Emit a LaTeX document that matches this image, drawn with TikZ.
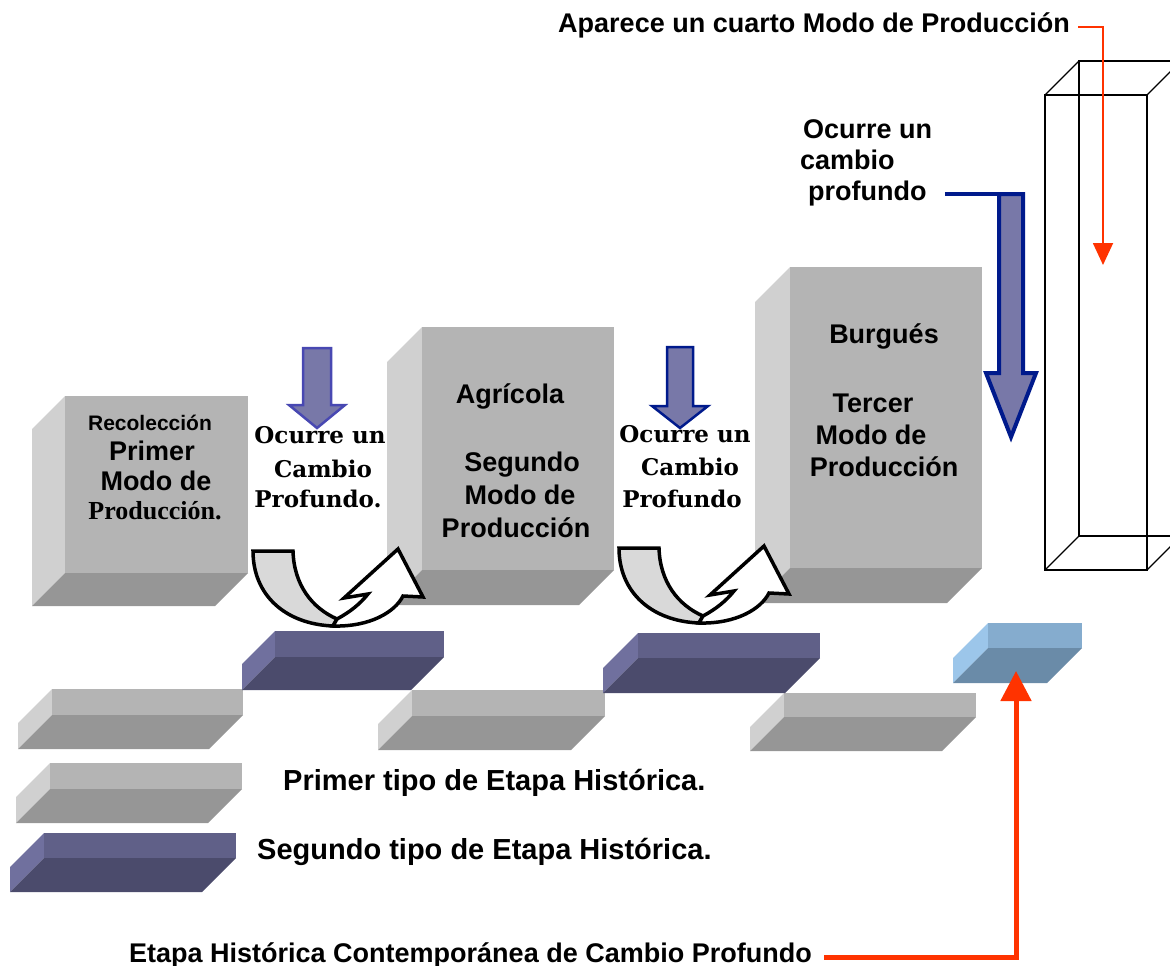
\documentclass[tikz,border=0pt]{standalone}
\usepackage{fontspec}
\setmainfont{Liberation Sans}
\newfontfamily\bookfont{DejaVu Serif}
\newfontfamily\timesfont{Liberation Serif}
\usepackage{tikz}
\usetikzlibrary{arrows.meta, positioning, calc}
\usepackage{xcolor}
\definecolor{GrisFront}{RGB}{180,180,180}
\definecolor{GrisSide}{RGB}{208,208,208}
\definecolor{GrisBottom}{RGB}{150,150,150}
\definecolor{MoradoFront}{RGB}{96,96,136}
\definecolor{MoradoSide}{RGB}{112,112,158}
\definecolor{MoradoBottom}{RGB}{75,75,108}
\definecolor{AzulFront}{RGB}{133,172,206}
\definecolor{AzulSide}{RGB}{156,198,234}
\definecolor{AzulBottom}{RGB}{106,139,168}
\definecolor{FlechaFill}{RGB}{120,120,168}
\definecolor{FlechaNavy}{RGB}{0,26,140}
\definecolor{FlechaBlue}{RGB}{72,72,178}
\definecolor{RojoLinea}{RGB}{255,51,0}
\definecolor{BandaGris}{RGB}{217,217,217}
\tikzset{
  cara/.style={rectangle,anchor=north west,inner sep=0pt,outer sep=0pt},
  modo/.style={font=\bfseries\fontsize{27}{31}\selectfont,anchor=base,inner sep=0pt},
  leyenda/.style={font=\bfseries\fontsize{29}{33}\selectfont,anchor=base west,inner sep=0pt},
  cambio/.style={font=\bookfont\bfseries\fontsize{23}{27}\selectfont,anchor=base,inner sep=0pt},
  flecha/.style={fill=FlechaFill,draw=FlechaNavy,line width=3pt,line join=miter},
  banda/.style={draw=black,line width=3.5pt,line join=miter},
  rojo/.style={draw=RojoLinea,line width=1.8pt},
  wire/.style={draw=black,line width=1.1pt}
}
% bloque: name, x, y, width, height, depth, colour set
\newcommand{\bloque}[7]{%
  \fill[#7Side] (#2,#3) -- (#2,#3+#5) -- (#2-#6,#3+#5+#6) -- (#2-#6,#3+#6) -- cycle;
  \fill[#7Bottom] (#2,#3+#5) -- (#2+#4,#3+#5) -- (#2+#4-#6,#3+#5+#6) -- (#2-#6,#3+#5+#6) -- cycle;
  \node[cara,fill=#7Front,minimum width=#4pt,minimum height=#5pt] (#1) at (#2,#3) {};
}
% flechabajo: [style] centre x, top, half shaft, head y, half head, tip y
\newcommand{\flechabajo}[7][]{%
  \draw[flecha,#1] (#2-#4,#3) -- (#2+#4,#3) -- (#2+#4,#5) -- (#2+#6,#5) -- (#2,#7)
    -- (#2-#6,#5) -- (#2-#4,#5) -- cycle;
}

\begin{document}
\begin{tikzpicture}[x=1pt,y=-1pt]
  \useasboundingbox (0,0) rectangle (1170,966);
  % modos de produccion
  \bloque{recoleccion}{65}{396}{183}{177}{33}{Gris}
  \bloque{agricola}{422}{327}{192}{243}{35}{Gris}
  \bloque{burgues}{790}{267}{192}{301}{35}{Gris}
  % etapas
  \bloque{etapaA}{52}{689}{191}{26}{34}{Gris}
  \bloque{etapaB}{412}{690}{193}{26}{34}{Gris}
  \bloque{etapaC}{784}{693}{192}{24}{34}{Gris}
  \bloque{cambioA}{275}{631}{169}{26}{33}{Morado}
  \bloque{cambioB}{638}{633}{182}{25}{35}{Morado}
  \bloque{contemporanea}{988}{623}{94}{25}{35}{Azul}
  \bloque{leyPrimer}{50}{763}{192}{26}{34}{Gris}
  \bloque{leySegundo}{44}{833}{192}{25}{34}{Morado}

  % vueltas
  \foreach \dx/\dy in {0/0,366/-3}{
    \begin{scope}[shift={(\dx,\dy)}]
      \filldraw[banda,fill=BandaGris] (253,551) -- (293,551) .. controls (294,585) and (312,608) .. (337,619)
        -- (333,626) .. controls (285,624) and (253,595) .. (253,551) -- cycle;
      \filldraw[banda,fill=white] (337,619) .. controls (350,612) and (360,604) .. (368,594)
        -- (344,598) -- (398,549) -- (423,597) -- (403,596)
        .. controls (395,612) and (370,627) .. (333,626) -- cycle;
    \end{scope}}

  % flechas azules
  \flechabajo[draw=FlechaBlue,line width=2.5pt]{317}{348}{14}{405}{28}{428}
  \flechabajo[line width=2.5pt]{680}{347}{13}{406}{28}{428}
  \flechabajo[line width=4pt]{1011}{194}{12}{373}{25}{437}

  % textos de los bloques
  \node[modo,font=\bfseries\fontsize{21}{25}\selectfont] (recTxt) at (150,430) {Recolección};
  \foreach \n/\x/\y/\t in {prim/152/460/Primer, modoA/156/490/Modo de,
      agrTxt/510/403/Agrícola, seg/522/471/Segundo, modoB/520/504/Modo de, prodB/516/537/Producción,
      burTxt/884/343/Burgués, ter/873/412/Tercer, modoC/871/444/Modo de, prodC/884/476/Producción}
    \node[modo] (\n) at (\x,\y) {\t};
  \node[modo,font=\timesfont\bfseries\fontsize{26}{30}\selectfont] (prodA) at (155,519) {Producción.};
  \foreach \n/\x/\y/\t in {ocA/320/443/Ocurre un, caA/323/477/Cambio, prA/318/507/Profundo.,
      ocB/685/442/Ocurre un, caB/690/475/Cambio, prB/682/507/Profundo}
    \node[cambio] (\n) at (\x,\y) {\t};

  % cuarto modo
  \begin{scope}
    \clip (0,0) rectangle (1170,966);
    \draw[wire] (1045,95) rectangle (1147,570);
    \draw[wire] (1079,61) rectangle (1181,536);
    \draw[wire] (1045,95) -- (1079,61) (1147,95) -- (1181,61)
      (1045,570) -- (1079,536) (1147,570) -- (1181,536);
  \end{scope}

  \node[modo,anchor=base east] (aparece) at (1070,33) {Aparece un cuarto Modo de Producción};
  \node[modo,anchor=base west] (ocC) at (803,138) {Ocurre un};
  \node[modo,anchor=base west] (caC) at (800,169) {cambio};
  \node[modo,anchor=base west] (profundo) at (808,200) {profundo};
  \node[leyenda] (primerTipo) at (283,790) {Primer tipo de Etapa Histórica.};
  \node[leyenda] (segundoTipo) at (257,859) {Segundo tipo de Etapa Histórica.};
  \node[modo,anchor=base west] (contemp) at (129,962) {Etapa Histórica Contemporánea de Cambio Profundo};

  \coordinate (cuartoTip) at (1103,265);
  \coordinate (contempTip) at (1016,671);
  \coordinate (grandeTop) at (1023,194);
  \draw[rojo,-{Triangle[width=20pt,length=22pt]}] ([xshift=8pt,yshift=6pt]aparece.base east) -| (cuartoTip);
  \draw[rojo,line width=5pt,-{Triangle[width=30pt,length=30pt]}] ([xshift=12pt,yshift=5pt]contemp.base east) -| (contempTip);
  \draw[draw=FlechaNavy,line width=4pt] ([xshift=18pt,yshift=6pt]profundo.base east) -- (grandeTop);
\end{tikzpicture}
\end{document}
